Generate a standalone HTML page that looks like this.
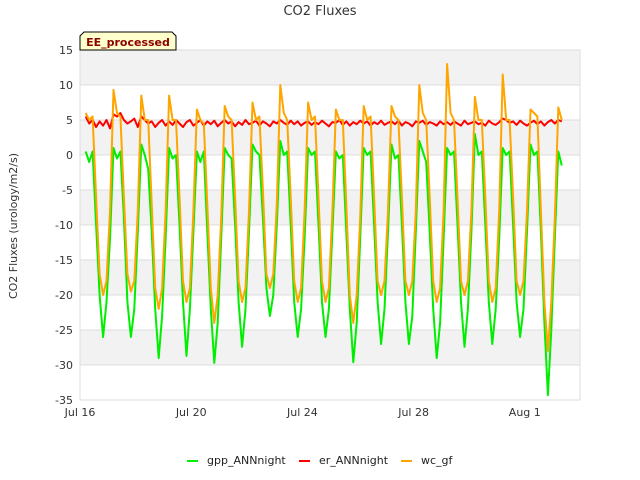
<!DOCTYPE html>
<html><head><meta charset="utf-8"><style>
html,body{margin:0;padding:0;background:#fff;}
svg{display:block;font-family:"DejaVu Sans","Liberation Sans",sans-serif;}
</style></head><body>
<svg id="chart" width="640" height="480" viewBox="0 0 640 480" xmlns="http://www.w3.org/2000/svg">
<text x="320" y="15" text-anchor="middle" font-size="13" fill="#333">CO2 Fluxes</text>
<text transform="translate(17,226) rotate(-90)" text-anchor="middle" font-size="11" fill="#333">CO2 Fluxes (urology/m2/s)</text>
<g id="bands"></g><g id="grid"></g>
<rect x="80" y="50" width="500" height="350" fill="none" stroke="#ddd"/>
<g id="yticks"></g><g id="xticks"></g><g id="series"></g>
<g>
<path d="M84,32 H172 L176,36 V50 H80 V36 Z" fill="#ffffcc" stroke="#000" stroke-width="1"/>
<text x="128" y="46" text-anchor="middle" font-size="11" font-weight="bold" fill="#8b0000">EE_processed</text>
</g>
<g font-size="11" fill="#222">
<g><line x1="187" y1="461" x2="198" y2="461" stroke="#00ee00" stroke-width="2"/><text x="207" y="464">gpp_ANNnight</text></g>
<g><line x1="299" y1="461" x2="310" y2="461" stroke="#ff0000" stroke-width="2"/><text x="319" y="464">er_ANNnight</text></g>
<g><line x1="401" y1="461" x2="412" y2="461" stroke="#ffa500" stroke-width="2"/><text x="421" y="464">wc_gf</text></g>
</g>
</svg>
<script>
const yTicks=[15,10,5,0,-5,-10,-15,-20,-25,-30,-35];
const xTickDays=[0,4,8,12,16];
const xTickLabels=["Jul 16","Jul 20","Jul 24","Jul 28","Aug 1"];
const startDay=0.205, stepDay=0.125;
const gpp=[0.5,-1,0.5,-10,-20,-26,-21,-12, 1,-0.5,0.5,-9,-21,-26,-22,-11, 1.5,0,-2,-11,-22,-29,-23,-12, 1,-0.5,0,-10,-21,-28.7,-22,-11, 0.5,-1,0.5,-11,-22,-29.7,-24,-12, 1,0,-0.5,-10,-21,-27.4,-22,-11, 1.5,0.5,0,-9,-19,-23,-20,-10, 2,0,0.5,-10,-21,-26,-22,-12, 1,0,0.5,-10,-21,-26,-22,-11, 0.5,-0.5,0,-11,-22,-29.6,-24,-12, 1,0,0.5,-10,-21,-27,-22,-11, 1.5,-0.5,0,-10,-21,-27,-23,-11, 2,0.5,-1,-11,-22,-29,-24,-12, 1,0,0.5,-10,-21,-27.4,-22,-11, 3,0,0.5,-10,-21,-27,-22,-12, 1,0,0.5,-10,-21,-26,-22,-11, 1.5,0,0.5,-11,-24,-34.3,-25,-12, 0.5,-1.5];
const er=[5.5,4.5,5,4,4.8,4.2,5,3.8, 5.8,5.5,6,5,4.5,4.8,5.2,4, 5.5,5,4.5,4.8,4,4.6,5,4.2, 4.8,4.3,5,4.5,4,4.7,5,4.2, 4.6,5,4.2,4.8,4.4,4.9,4.1,4.6, 5,4.5,4.8,4.1,4.7,4.3,5,4.4, 4.6,4.9,4.2,4.8,4.5,4.1,4.8,4.5, 5,4.6,4.3,4.9,4.4,4.8,4.2,4.6, 4.8,4.3,4.7,4.4,4.9,4.5,4.1,4.7, 4.6,5,4.3,4.8,4.2,4.7,4.4,4.9, 4.5,4.8,4.2,4.7,4.4,4.9,4.3,4.6, 4.8,4.4,4.9,4.2,4.7,4.5,4.1,4.8, 4.6,4.9,4.3,4.7,4.5,4.2,4.8,4.4, 4.7,4.3,4.8,4.5,4.2,4.9,4.4,4.6, 4.8,4.4,4.6,4.2,4.9,4.5,4.3,4.7, 5.2,5,4.6,4.8,4.3,4.9,4.5,4.2, 4.6,4.9,4.4,4.8,4.2,4.7,5,4.5, 5,4.8];
const wc=[6,5,5.5,-6,-17,-20,-18,-8, 9.3,6,5.5,-6,-17,-19.5,-18,-8, 8.5,5,5,-7,-19,-22,-19,-8, 8.5,5,5,-6,-18,-21,-19,-8, 6.5,5,4.5,-7,-19,-24,-20,-9, 7,5.5,5,-6,-18,-21,-19,-8, 7.5,5,5.5,-5,-17,-19,-17,-7, 10,6,5,-6,-18,-21,-19,-8, 7.5,5,5.5,-6,-18,-21,-19,-8, 6.5,5,5,-7,-20,-24,-20,-9, 7,5,5.5,-6,-18,-20,-18,-8, 7,5.5,5,-6,-18,-20,-18,-8, 10,6,5,-6,-18,-21,-19,-8, 13,6,5,-6,-18,-20,-18,-8, 8.3,5,5,-6,-18,-21,-19,-8, 11.5,5,5,-6,-18,-20,-18,-8, 6.5,6,5.5,-8,-21,-28,-21,-9, 6.8,5];
const NS="http://www.w3.org/2000/svg";
const X0=80,X1=580,Y0=50,Y1=400,dayPx=27.8,yMin=-35,yMax=15;
function xs(d){return X0+d*dayPx;}
function ys(v){return Y1-(v-yMin)/(yMax-yMin)*(Y1-Y0);}
function mk(tag,attrs,parent){const e=document.createElementNS(NS,tag);for(const k in attrs)e.setAttribute(k,attrs[k]);parent.appendChild(e);return e;}
const bands=document.getElementById('bands'),grid=document.getElementById('grid'),yt=document.getElementById('yticks'),xt=document.getElementById('xticks'),ser=document.getElementById('series');
for(let i=0;i<yTicks.length-1;i++){
  const top=yTicks[i],bot=yTicks[i+1];
  if(((bot%10)+10)%10===0){
    const r=mk('rect',{x:X0,y:ys(top),width:X1-X0,height:ys(bot)-ys(top),fill:'#f2f2f2'},bands);
    
    
  }
}
yTicks.forEach(v=>{
  const l=mk('line',{x1:X0,x2:X1,y1:ys(v),y2:ys(v),stroke:'#ddd'},grid);
  
  
  const t=mk('text',{x:73,y:ys(v)+4,'text-anchor':'end','font-size':11,fill:'#333'},yt);
  
  
  t.textContent=v;
});
xTickDays.forEach((d,i)=>{
  const t=mk('text',{x:xs(d),y:416,'text-anchor':'middle','font-size':11,fill:'#333'},xt);
  
  
  t.textContent=xTickLabels[i];
});
function draw(arr,color,name){
  const pts=arr.map((v,i)=>xs(startDay+i*stepDay).toFixed(1)+','+ys(v).toFixed(1)).join(' ');
  const p=mk('polyline',{points:pts,fill:'none',stroke:color,'stroke-width':2,'stroke-linejoin':'round'},ser);
  
  
}
draw(gpp,'#00ee00','gpp-annnight-line');
draw(er,'#ff0000','er-annnight-line');
draw(wc,'#ffa500','wc-gf-line');
</script>
</body></html>
